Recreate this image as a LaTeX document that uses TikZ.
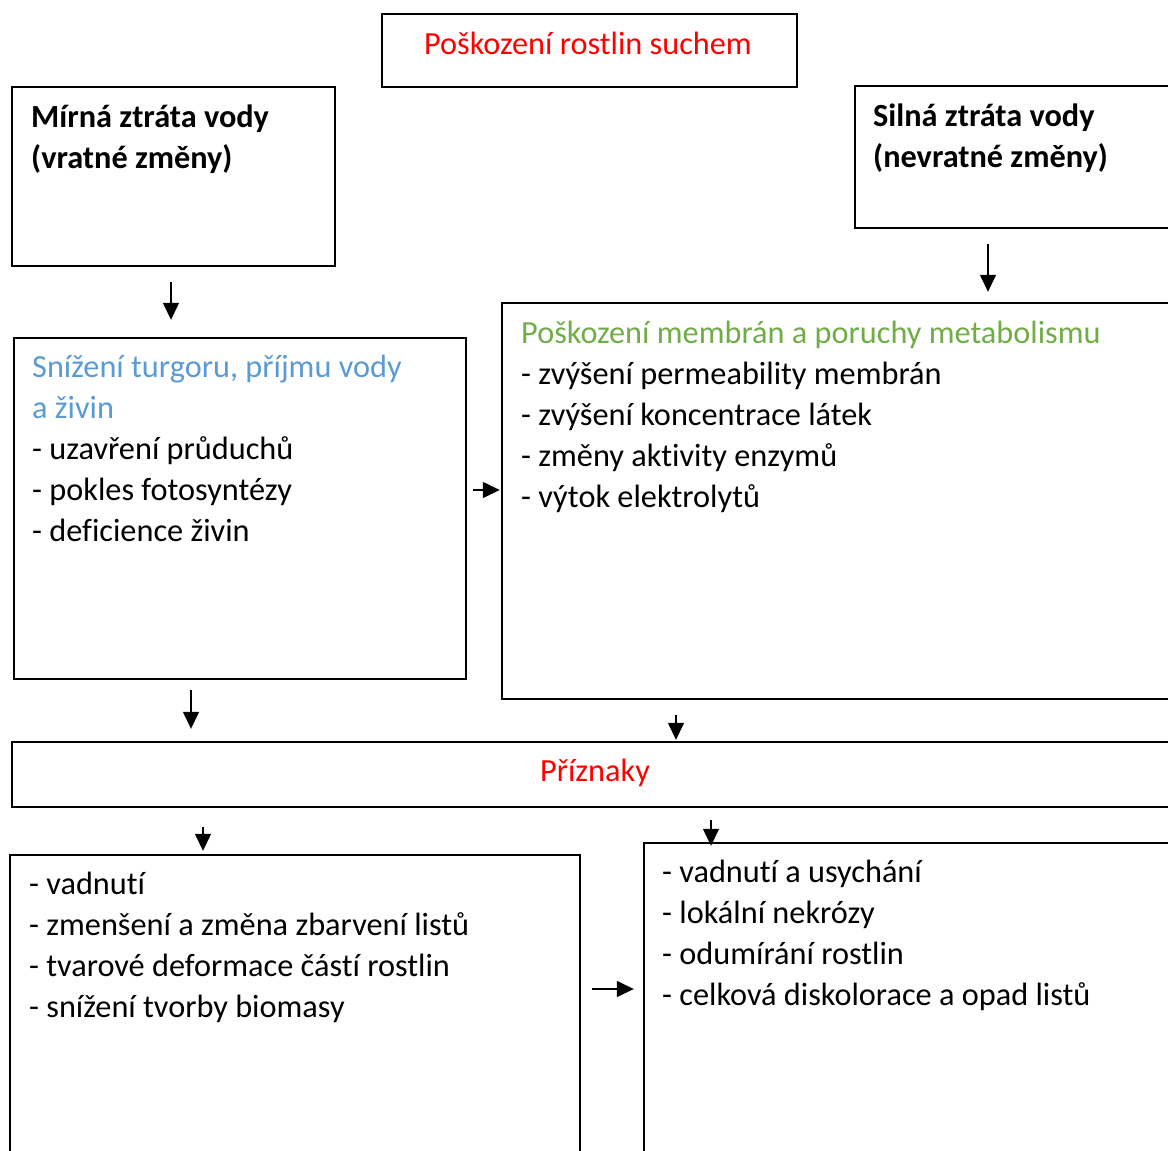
\documentclass[tikz,border=0pt]{standalone}
\usepackage{fontspec}
\setmainfont[Ligatures={NoCommon}]{Carlito}
\usetikzlibrary{positioning,arrows.meta,calc}
\definecolor{titlered}{RGB}{255,0,0}
\definecolor{turgblue}{RGB}{91,155,213}
\definecolor{membgreen}{RGB}{112,173,71}
\tikzset{
  box/.style={draw, line width=1.8pt, inner sep=0pt, anchor=north west},
  txt/.style={anchor=base west, inner sep=0pt, align=left, font=\fontsize{32.3}{41}\selectfont},
  arr/.style={-{Triangle[length=17pt,width=16pt]}, line width=1.4pt},
}

\begin{document}
\begin{tikzpicture}[x=1pt,y=-1pt]
    \clip (0,0) rectangle (1168,1151);
    % Boxes
    \node[box, minimum width=415pt, minimum height=73pt] (title) at (381,13) {};
    \node[box, minimum width=323pt, minimum height=179pt] (mild) at (11,86) {};
    \node[box, minimum width=400pt, minimum height=142pt] (strong) at (854,85) {};
    \node[box, minimum width=452pt, minimum height=341pt] (turg) at (13,337) {};
    \node[box, minimum width=700pt, minimum height=396pt] (memb) at (501,302) {};
    \node[box, minimum width=1200pt, minimum height=65pt] (sympt) at (11,741) {};
    \node[box, minimum width=570pt, minimum height=400pt] (mildsym) at (9,854) {};
    \node[box, minimum width=600pt, minimum height=400pt] (strongsym) at (643,842) {};
    % Texts (base = baseline of the last line)
    \node[txt, anchor=base, text=titlered] (titletxt) at (588,54) {Poškození rostlin suchem};
    \node[txt, font=\fontsize{32.3}{41}\selectfont\bfseries] (mildtxt) at ($(mild.north west)+(20,82)$)
      {Mírná ztráta vody\\(vratné změny)};
    \node[txt, font=\fontsize{32.3}{41}\selectfont\bfseries] (strongtxt) at ($(strong.north west)+(19,82)$)
      {Silná ztráta vody\\(nevratné změny)};
    \node[txt] (turgtxt) at ($(turg.north west)+(19,204)$)
      {\textcolor{turgblue}{Snížení turgoru, příjmu vody}\\\textcolor{turgblue}{a živin}\\- uzavření průduchů\\- pokles fotosyntézy\\- deficience živin};
    \node[txt] (membtxt) at ($(memb.north west)+(20,205)$)
      {\textcolor{membgreen}{Poškození membrán a poruchy metabolismu}\\- zvýšení permeability membrán\\- zvýšení koncentrace látek\\- změny aktivity enzymů\\- výtok elektrolytů};
    \node[txt, anchor=base, text=titlered] (symptxt) at (595,781) {Příznaky};
    \node[txt] (mildsymtxt) at ($(mildsym.north west)+(20,163)$)
      {- vadnutí\\- zmenšení a změna zbarvení listů\\- tvarové deformace částí rostlin\\- snížení tvorby biomasy};
    \node[txt] (strongsymtxt) at ($(strongsym.north west)+(19,163)$)
      {- vadnutí a usychání\\- lokální nekrózy\\- odumírání rostlin\\- celková diskolorace a opad listů};
    % Arrow ends
    \coordinate (a1) at ($(mild.south west)+(160,15)$);
    \coordinate (b1) at ($(mild.south west)+(160,53)$);
    \coordinate (a2) at ($(strong.south west)+(134,15)$);
    \coordinate (b2) at ($(strong.south west)+(134,63)$);
    \coordinate (a3) at ($(turg.north east)+(6,153)$);
    \coordinate (b3) at ($(turg.north east)+(33,153)$);
    \coordinate (a4) at ($(turg.south west)+(178,10)$);
    \coordinate (b4) at ($(turg.south west)+(178,49)$);
    \coordinate (a5) at ($(memb.south west)+(175,15)$);
    \coordinate (b5) at ($(memb.south west)+(175,40)$);
    \coordinate (a6) at ($(sympt.south west)+(192,19)$);
    \coordinate (b6) at ($(sympt.south west)+(192,43)$);
    \coordinate (a7) at ($(sympt.south west)+(700,12)$);
    \coordinate (b7) at ($(sympt.south west)+(700,38)$);
    \coordinate (a8) at ($(mildsym.north east)+(11,135)$);
    \coordinate (b8) at ($(mildsym.north east)+(53,135)$);
    % Arrows
    \foreach \s/\e in {a1/b1,a2/b2,a3/b3,a4/b4,a5/b5,a6/b6,a7/b7,a8/b8}
      \draw[arr] (\s) -- (\e);
\end{tikzpicture}
\end{document}
